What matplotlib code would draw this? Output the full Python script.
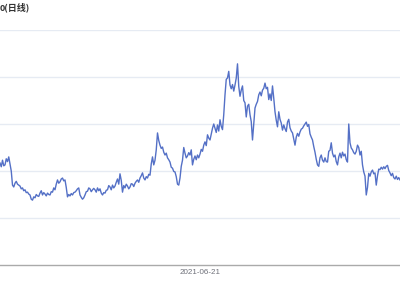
import numpy as np
import pandas as pd
import matplotlib
matplotlib.use("Agg")
import matplotlib.pyplot as plt

# daily closes
close = [21.7, 20.9, 22.3, 21.1, 21.3, 22.6, 22.0, 23.0, 21.5, 20.0, 17.0,
         16.6, 17.4, 17.8, 17.2, 17.0, 16.8, 16.2, 16.4, 15.8, 16.0,
         15.4, 15.5, 15.1, 14.9, 14.0, 13.8, 14.5, 14.3, 15.0, 14.7,
         14.6, 15.3, 15.8, 14.9, 15.4, 15.1, 14.7, 15.3, 15.0, 14.9,
         15.6, 15.5, 16.4, 16.0, 17.2, 18.1, 17.4, 17.7, 18.3, 18.5,
         17.9, 18.1, 16.5, 14.5, 15.0, 14.7, 15.2, 14.9, 15.4, 15.5,
         15.8, 16.2, 16.4, 14.9, 14.4, 14.0, 14.3, 14.9, 15.6, 15.7,
         16.4, 16.2, 15.6, 16.0, 16.3, 16.0, 15.5, 16.4, 15.8, 16.2,
         15.3, 14.9, 15.4, 15.3, 15.9, 16.0, 16.9, 16.6, 16.0, 17.0,
         16.4, 16.8, 17.6, 18.3, 17.2, 19.4, 18.0, 15.5, 16.9, 16.4,
         17.2, 16.8, 16.2, 16.6, 17.3, 17.2, 16.7, 17.4, 17.8, 18.1,
         17.6, 18.5, 19.0, 19.6, 18.5, 18.1, 18.8, 18.5, 19.3, 19.1,
         21.5, 23.0, 21.3, 22.3, 24.5, 28.1, 26.5, 25.5, 24.8, 25.1,
         24.0, 23.4, 23.8, 22.8, 22.4, 21.9, 20.8, 20.6, 19.9, 19.8,
         18.8, 17.2, 17.0, 18.5, 21.0, 22.3, 25.0, 23.8, 22.8, 23.2,
         23.9, 23.4, 24.5, 21.3, 22.5, 23.2, 22.4, 23.4, 22.8, 23.6,
         24.6, 24.2, 25.5, 26.2, 25.4, 27.7, 27.0, 26.6, 27.8, 29.1,
         30.0, 29.1, 28.2, 29.8, 28.5, 30.9, 29.5, 28.8, 32.0, 36.2,
         39.5, 39.8, 41.2, 38.3, 37.5, 38.4, 37.0, 38.3, 39.8, 42.8,
         38.0, 35.9, 37.2, 38.1, 35.0, 34.5, 31.5, 33.8, 34.2, 32.0,
         30.5, 26.6, 30.0, 33.4, 34.2, 34.8, 36.2, 36.8, 36.0, 37.2,
         37.6, 38.7, 37.5, 37.8, 35.2, 36.4, 35.0, 38.1, 35.5, 32.6,
         30.8, 29.4, 32.6, 31.0, 30.2, 28.7, 29.8, 29.0, 28.4, 30.4,
         31.0, 29.2, 28.5, 28.1, 26.8, 25.5, 27.2, 28.0, 27.4, 28.3,
         28.9, 29.1, 29.6, 30.0, 30.4, 29.5, 29.9, 27.9, 27.2, 26.6,
         25.2, 24.0, 22.5, 21.3, 21.0, 22.8, 23.4, 22.3, 21.9, 22.8,
         22.0, 21.9, 24.2, 24.4, 26.0, 23.8, 23.0, 23.4, 22.0, 21.3,
         23.0, 23.8, 22.8, 24.0, 23.2, 23.6, 22.4, 21.9, 30.0, 26.0,
         24.9, 24.5, 23.9, 23.6, 24.2, 25.5, 25.0, 23.4, 24.2, 21.3,
         19.8, 18.9, 14.9, 16.5, 19.5, 18.9, 19.8, 20.2, 19.4, 19.6,
         17.0, 19.0, 20.4, 20.3, 20.8, 20.4, 20.9, 20.5, 21.0, 21.2,
         20.1, 19.6, 19.0, 19.5, 18.6, 18.3, 18.9, 18.2, 18.6, 18.1]
center_date = "2021-06-21"
title = "0(日线)"

dates = pd.date_range(pd.Timestamp(center_date) - pd.Timedelta(days=len(close) // 2),
                      periods=len(close), freq="D")

plt.rcParams['font.family'] = ['Liberation Sans', 'DejaVu Sans']

fig = plt.figure(figsize=(4, 3), dpi=100)
ax = fig.add_axes([0, 35 / 300, 1, 235 / 300])

ax.plot(dates, close, color="#5470C6", lw=1.0)

ax.set_xlim(dates[0], dates[-1])
ax.set_ylim(0, 50)
ax.set_yticks([10, 20, 30, 40, 50])
ax.yaxis.grid(True, color="#E6EBF3", lw=1)
ax.set_axisbelow(True)
ax.tick_params(axis="y", left=False, labelleft=False)
ax.set_xticks([pd.Timestamp(center_date)])
ax.set_xticklabels([center_date])
ax.tick_params(axis="x", length=0, pad=3, labelsize=5.8, labelcolor="#6E7079")
for s in ["top", "left", "right"]:
    ax.spines[s].set_visible(False)
ax.spines["bottom"].set_color("#AAAAAA")
ax.spines["bottom"].set_linewidth(1)

fig.text(0, 1 - 7 / 300, title, ha="left", va="center", fontsize=6.5,
         fontweight="bold", color="#333333",
         family=['Noto Sans CJK SC', 'DejaVu Sans'])

fig.savefig("out.png", dpi=100)
